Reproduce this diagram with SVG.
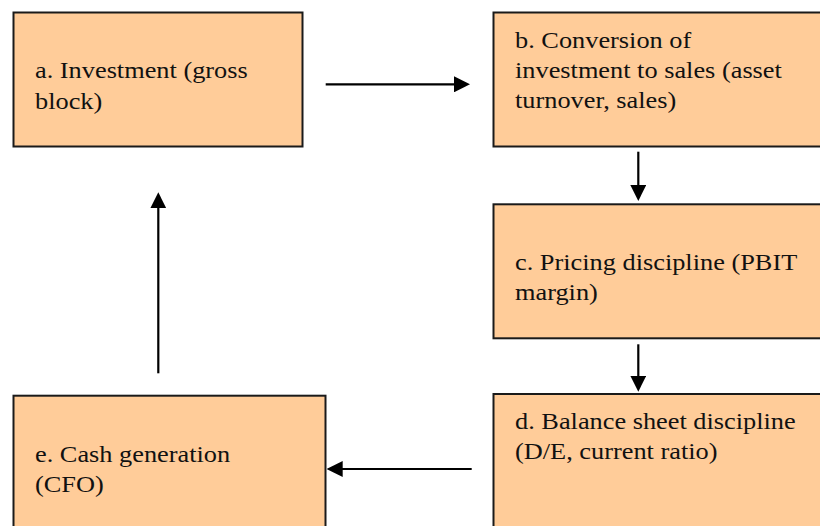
<svg xmlns="http://www.w3.org/2000/svg" width="820" height="526" viewBox="0 0 820 526">
<style>
.box{fill:#FFCC99;stroke:#1a1a1a;stroke-width:2}
.lbl{font-family:"Liberation Serif","Times New Roman",serif;font-size:22.7px;fill:#111}
.conn{stroke:#000;stroke-width:2.2;fill:none;marker-end:url(#ah)}
</style>
<defs>
<marker id="ah" viewBox="0 0 16 16" refX="6" refY="8" markerWidth="16" markerHeight="16" markerUnits="userSpaceOnUse" orient="auto">
<path d="M0,0 L16,8 L0,16 z" fill="#000"/>
</marker>
</defs>
<rect width="820" height="526" fill="#fff"/>
<g id="node-a">
<rect class="box" x="13.5" y="12.5" width="289" height="134"/>
<text class="lbl" transform="translate(35 78.3) scale(1.16 1)"><tspan x="0" y="0">a. Investment (gross</tspan><tspan x="0" y="30.8">block)</tspan></text>
</g>
<g id="node-b">
<rect class="box" x="493.5" y="12.5" width="340" height="134"/>
<text class="lbl" transform="translate(515 48.3) scale(1.16 1)"><tspan x="0" y="0">b. Conversion of</tspan><tspan x="0" y="30">investment to sales (asset</tspan><tspan x="0" y="60">turnover, sales)</tspan></text>
</g>
<g id="node-c">
<rect class="box" x="493.5" y="204.3" width="340" height="134"/>
<text class="lbl" transform="translate(515 270) scale(1.16 1)"><tspan x="0" y="0">c. Pricing discipline (PBIT</tspan><tspan x="0" y="30">margin)</tspan></text>
</g>
<g id="node-d">
<rect class="box" x="493.5" y="394" width="340" height="150"/>
<text class="lbl" transform="translate(515 429.3) scale(1.16 1)"><tspan x="0" y="0">d. Balance sheet discipline</tspan><tspan x="0" y="30">(D/E, current ratio)</tspan></text>
</g>
<g id="node-e">
<rect class="box" x="13.5" y="395.7" width="312" height="150"/>
<text class="lbl" transform="translate(35 461.7) scale(1.16 1)"><tspan x="0" y="0">e. Cash generation</tspan><tspan x="0" y="30">(CFO)</tspan></text>
</g>
<g id="connectors">
<line class="conn" x1="325.7" y1="84.3" x2="460" y2="84.3"/>
<line class="conn" x1="638.3" y1="151.7" x2="638.3" y2="191"/>
<line class="conn" x1="638.3" y1="344.3" x2="638.3" y2="381.7"/>
<line class="conn" x1="471.7" y1="469" x2="336.7" y2="469"/>
<line class="conn" x1="158.3" y1="373.3" x2="158.3" y2="202.3"/>
</g>
</svg>
